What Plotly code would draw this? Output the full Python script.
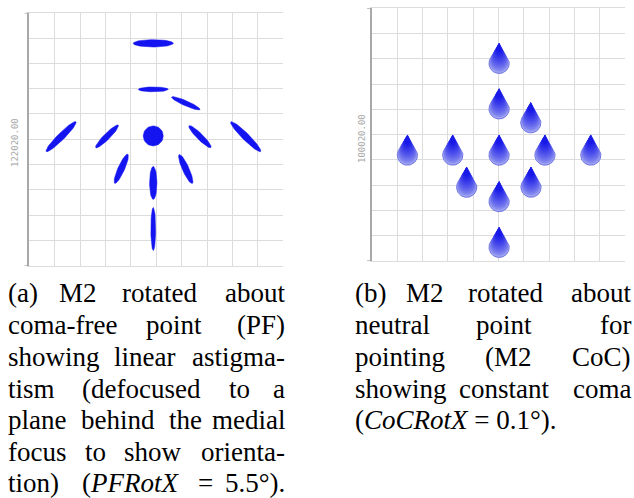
import numpy as np
import plotly.graph_objects as go

# ---------------- data ----------------
# (a) spot positions (grid units) and ellipse geometry (full axis lengths, grid units; angle deg)
spot_x = [4.88, 4.88, 6.16, 1.25, 3.06, 4.88, 6.72, 8.52, 3.62, 6.16, 4.88, 4.88]
spot_y = [8.79, 6.97, 6.42, 5.10, 5.11, 5.13, 5.10, 5.10, 3.83, 3.82, 3.27, 1.45]
spot_major = [1.58, 1.18, 1.22, 1.66, 1.26, 0.79, 1.22, 1.66, 1.26, 1.26, 1.30, 1.70]
spot_minor = [0.29, 0.19, 0.20, 0.27, 0.24, 0.79, 0.24, 0.27, 0.26, 0.26, 0.29, 0.19]
spot_angle = [0, 0, -24, 45, 45, 0, -45, -45, 66, -66, 90, 90]

# (b) coma drop positions (centre of round part, grid units) and radius
drop_x = [5.03, 5.03, 6.28, 1.41, 3.20, 5.03, 6.84, 8.65, 3.75, 6.29, 5.03, 5.03]
drop_y = [7.82, 6.02, 5.47, 4.19, 4.19, 4.19, 4.19, 4.19, 2.92, 2.92, 2.35, 0.54]
drop_r = 0.40

label_a = "122020.00"
label_b = "100020.00"

# ---------------- geometry helpers ----------------
def ellipse_path(xs, ys, majors, minors, angles):
    t = np.linspace(0, 2 * np.pi, 60)
    px, py = [], []
    for cx, cy, a, b, ang in zip(xs, ys, majors, minors, angles):
        th = np.deg2rad(ang)
        ex = a / 2 * np.cos(t)
        ey = b / 2 * np.sin(t)
        px += list(cx + ex * np.cos(th) - ey * np.sin(th)) + [None]
        py += list(cy + ex * np.sin(th) + ey * np.cos(th)) + [None]
    return px, py

def drop_path(xs, ys, r, scale=1.0):
    # drop with the tip fixed; smaller scale shrinks towards the tip
    arc = np.deg2rad(np.linspace(30, -210, 60))
    rr = r * scale
    px, py = [], []
    for cx, cy in zip(xs, ys):
        tipy = cy + 2 * r
        ccy = tipy - 2 * rr
        px += [cx] + list(cx + rr * np.cos(arc)) + [cx, None]
        py += [tipy] + list(ccy + rr * np.sin(arc)) + [tipy, None]
    return px, py

fig = go.Figure()

ex, ey = ellipse_path(spot_x, spot_y, spot_major, spot_minor, spot_angle)
fig.add_trace(go.Scatter(x=ex, y=ey, fill="toself", mode="lines",
                         line=dict(color="#1414f0", width=0.5),
                         fillcolor="#1414f0", xaxis="x", yaxis="y", hoverinfo="skip"))

light = np.array([160, 166, 240])
dark = np.array([24, 24, 232])
scales = np.linspace(1.0, 0.3, 12)
for i, sc in enumerate(scales):
    f = (i / (len(scales) - 1)) ** 0.7
    c = light * (1 - f) + dark * f
    col = "rgb(%d,%d,%d)" % tuple(c.astype(int))
    dx, dy = drop_path(drop_x, drop_y, drop_r, sc)
    fig.add_trace(go.Scatter(x=dx, y=dy, fill="toself", mode="lines",
                             line=dict(color="#5a60e0" if i == 0 else col, width=0.8 if i == 0 else 0),
                             fillcolor=col, xaxis="x2", yaxis="y2", hoverinfo="skip"))

W, H = 634, 498
grid = "#dcdcdc"
axc = "#a8a8a8"
def xax(domain, anchor):
    return dict(domain=domain, range=[0, 10], dtick=1, tick0=0, showgrid=True,
                gridcolor=grid, gridwidth=1, showticklabels=False, zeroline=False,
                showline=True, linecolor=grid, mirror=True, ticks="", anchor=anchor,
                fixedrange=True)
def yax(domain, anchor):
    return dict(domain=domain, range=[0, 10], dtick=1, tick0=0, showgrid=True,
                gridcolor=grid, gridwidth=1, showticklabels=False, zeroline=False,
                showline=True, linecolor=axc, linewidth=2, ticks="", anchor=anchor,
                fixedrange=True)

fig.update_layout(
    width=W, height=H, margin=dict(l=0, r=0, t=0, b=0),
    paper_bgcolor="white", plot_bgcolor="white", showlegend=False,
    xaxis=xax([29.3 / W, 283.3 / W], "y"),
    yaxis=yax([1 - 265.7 / H, 1 - 12.7 / H], "x"),
    xaxis2=xax([371.7 / W, 625 / W], "y2"),
    yaxis2=yax([1 - 261 / H, 1 - 8.3 / H], "x2"),
)

# small end ticks on the left axes
shapes = []
for xr, yr in [("x domain", "y"), ("x2 domain", "y2")]:
    for v in [0, 10]:
        shapes.append(dict(type="line", xref=xr, yref=yr, x0=-0.018, x1=0, y0=v, y1=v,
                           line=dict(color=axc, width=1.5)))
fig.update_layout(shapes=shapes)

ann = []
def px_ann(text, x, y, anchor="center", size=27, font="Liberation Serif", color="black", angle=0):
    ann.append(dict(text=text, x=x / W, y=1 - y / H, xref="paper", yref="paper",
                    xanchor=anchor, yanchor="middle", showarrow=False, textangle=angle,
                    font=dict(family=font, size=size, color=color)))

px_ann(label_a, 15, 143, size=9, font="DejaVu Sans Mono", color="#a8a8a8", angle=-90)
px_ann(label_b, 362, 139, size=9, font="DejaVu Sans Mono", color="#a8a8a8", angle=-90)

def justified(words, centers, y, left, right):
    for i, (w, c) in enumerate(zip(words, centers)):
        if i == 0:
            px_ann(w, left, y, "left")
        elif i == len(words) - 1:
            px_ann(w, right, y, "right")
        else:
            px_ann(w, c, y, "center")

ys = [292.5, 324.5, 356.5, 388.5, 420, 451.5, 483]
La, Ra = 6, 287.3
justified(["(a)", "M2", "rotated", "about"], [0, 78, 159.2, 0], ys[0], La, Ra)
justified(["coma-free", "point", "(PF)"], [0, 173.7, 0], ys[1], La, Ra)
justified(["showing", "linear", "astigma-"], [0, 144.2, 0], ys[2], La, Ra)
justified(["tism", "(defocused", "to", "a"], [0, 141.7, 239.2, 0], ys[3], La, Ra)
justified(["plane", "behind", "the", "medial"], [0, 117.5, 185.3, 0], ys[4], La, Ra)
justified(["focus", "to", "show", "orienta-"], [0, 95, 153.3, 0], ys[5], La, Ra)
justified(["tion)", "(<i>PFRotX</i>", "=", "5.5°)."], [0, 130.8, 205, 0], ys[6], La, Ra)

Lb, Rb = 353.3, 633.3
justified(["(b)", "M2", "rotated", "about"], [0, 425, 505, 0], ys[0], Lb, Rb)
justified(["neutral", "point", "for"], [0, 504.2, 0], ys[1], Lb, Rb)
justified(["pointing", "(M2", "CoC)"], [0, 508.3, 0], ys[2], Lb, Rb)
justified(["showing", "constant", "coma"], [0, 504.2, 0], ys[3], Lb, Rb)
px_ann("(<i>CoCRotX</i> = 0.1°).", Lb, ys[4], "left")

fig.update_layout(annotations=ann)
fig.write_html("out.html")
